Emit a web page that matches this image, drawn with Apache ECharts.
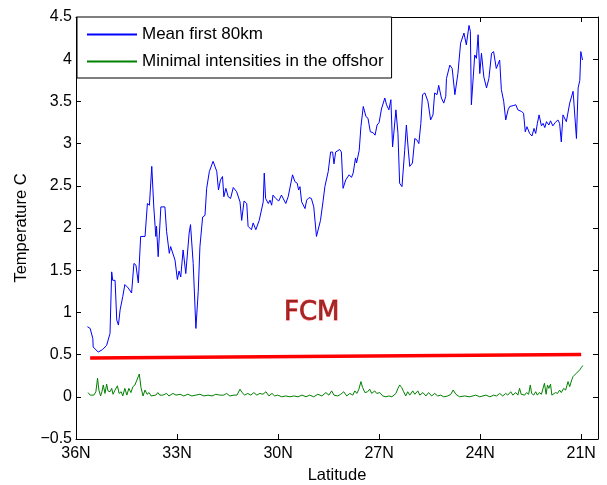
<!DOCTYPE html>
<html><head><meta charset="utf-8">
<script src="https://cdn.jsdelivr.net/npm/echarts@6/dist/echarts.min.js"></script>
<style>html,body{margin:0;padding:0;background:#fff}#c{width:607px;height:485px}</style>
</head><body><div id="c"></div>
<script>
// Mean first 80km
const blueLat = [35.66,35.58,35.50,35.49,35.34,35.21,35.09,34.99,34.94,34.91,34.84,34.79,34.74,34.69,34.61,34.55,34.45,34.35,34.28,34.22,34.15,34.08,33.95,33.88,33.82,33.75,33.69,33.63,33.61,33.56,33.48,33.36,33.31,33.23,33.19,33.06,32.99,32.94,32.89,32.82,32.74,32.70,32.64,32.60,32.52,32.44,32.37,32.32,32.24,32.17,32.12,32.04,31.93,31.82,31.77,31.71,31.65,31.61,31.55,31.48,31.41,31.33,31.23,31.13,31.08,31.01,30.93,30.89,30.84,30.79,30.74,30.66,30.56,30.44,30.41,30.37,30.29,30.24,30.19,30.15,30.07,29.98,29.90,29.77,29.70,29.57,29.50,29.43,29.39,29.35,29.30,29.26,29.20,29.15,29.08,29.01,28.94,28.86,28.81,28.74,28.66,28.61,28.51,28.44,28.38,28.34,28.29,28.17,28.12,28.07,27.99,27.89,27.82,27.77,27.70,27.67,27.59,27.54,27.47,27.39,27.33,27.26,27.18,27.12,27.06,27.00,26.93,26.83,26.78,26.71,26.65,26.60,26.50,26.44,26.39,26.32,26.24,26.19,26.14,26.09,26.01,25.94,25.87,25.82,25.76,25.71,25.64,25.55,25.47,25.40,25.35,25.28,25.23,25.15,25.08,25.02,25.00,24.95,24.90,24.83,24.75,24.66,24.58,24.48,24.41,24.33,24.29,24.26,24.21,24.16,24.11,24.06,24.01,23.96,23.89,23.81,23.74,23.66,23.60,23.52,23.42,23.37,23.30,23.24,23.17,23.12,23.02,22.94,22.88,22.77,22.71,22.66,22.61,22.53,22.46,22.40,22.35,22.30,22.25,22.18,22.13,22.08,22.03,21.96,21.91,21.84,21.77,21.69,21.64,21.59,21.54,21.49,21.44,21.39,21.34,21.29,21.24,21.19,21.14,21.09,21.04,21.01,20.96];
const blueTemp = [0.83,0.81,0.69,0.59,0.53,0.56,0.61,0.75,1.48,1.38,1.38,0.91,0.85,1.03,1.19,1.33,1.29,1.23,1.58,1.56,1.35,1.90,1.90,2.29,2.27,2.73,2.25,1.90,2.02,1.66,2.25,2.25,1.96,1.70,1.78,1.62,1.39,1.49,1.42,1.74,1.46,1.48,1.94,2.04,1.58,0.81,1.25,1.78,2.13,2.15,2.47,2.67,2.79,2.67,2.45,2.57,2.61,2.37,2.47,2.37,2.35,2.48,2.43,2.31,2.09,2.32,2.29,2.02,2.00,1.98,2.06,1.98,2.09,2.31,2.65,2.35,2.29,2.33,2.27,2.39,2.35,2.32,2.39,2.29,2.37,2.63,2.55,2.53,2.45,2.49,2.31,2.33,2.23,2.33,2.36,2.35,2.25,1.90,1.92,2.09,2.33,2.49,2.67,2.90,2.90,2.76,2.90,2.93,2.90,2.47,2.57,2.63,2.60,2.65,2.83,2.77,2.92,3.20,3.44,3.32,3.30,3.14,3.13,3.10,3.22,3.25,3.41,3.54,3.46,3.40,3.52,2.96,3.40,3.12,2.53,2.49,2.92,3.22,2.96,2.73,2.77,3.06,3.04,3.00,3.24,3.58,3.60,3.50,3.28,3.34,3.60,3.58,3.69,3.54,3.48,3.56,3.77,3.77,3.93,3.89,3.58,3.83,4.19,4.31,4.17,4.40,4.33,3.46,3.48,4.05,4.01,4.29,3.83,4.07,3.79,3.66,3.77,4.07,4.09,3.89,3.99,3.64,3.50,3.28,3.40,3.44,3.45,3.46,3.40,3.38,3.36,3.14,3.20,3.12,3.09,3.18,3.12,3.24,3.34,3.21,3.24,3.19,3.26,3.22,3.27,3.21,3.25,3.28,3.24,3.02,3.34,3.36,3.26,3.28,3.48,3.50,3.62,3.64,3.06,3.66,3.75,4.09,3.99];

// Minimal intensities in the offshore
const greenLat = [35.64,35.58,35.53,35.47,35.41,35.36,35.32,35.27,35.23,35.19,35.14,35.09,35.05,34.99,34.94,34.90,34.84,34.77,34.72,34.66,34.61,34.55,34.49,34.43,34.37,34.31,34.25,34.20,34.12,34.07,34.01,33.95,33.89,33.83,33.77,33.72,33.63,33.57,33.51,33.42,33.31,33.24,33.12,33.03,32.91,32.80,32.68,32.56,32.44,32.32,32.20,32.08,31.96,31.85,31.73,31.61,31.53,31.43,31.31,31.22,31.13,31.07,30.99,30.90,30.81,30.72,30.63,30.54,30.45,30.36,30.27,30.18,30.10,30.01,29.89,29.77,29.65,29.53,29.41,29.29,29.17,29.06,28.94,28.82,28.70,28.58,28.49,28.41,28.34,28.23,28.14,28.05,27.96,27.87,27.78,27.72,27.66,27.60,27.54,27.49,27.42,27.34,27.28,27.22,27.13,27.07,26.98,26.89,26.80,26.71,26.62,26.50,26.44,26.39,26.33,26.27,26.21,26.15,26.09,26.00,25.94,25.85,25.79,25.70,25.61,25.53,25.44,25.35,25.26,25.17,25.08,24.96,24.87,24.80,24.72,24.61,24.46,24.31,24.13,24.01,23.83,23.71,23.60,23.51,23.42,23.33,23.24,23.18,23.09,23.03,22.94,22.88,22.83,22.78,22.74,22.68,22.62,22.56,22.51,22.47,22.41,22.35,22.30,22.24,22.18,22.09,22.04,22.00,21.96,21.91,21.87,21.82,21.76,21.70,21.64,21.59,21.52,21.46,21.39,21.34,21.28,21.24,21.19,21.14,21.09,21.04,20.99,20.95];
const greenTemp = [0.05,0.02,0.04,0.02,0.06,0.22,0.08,0.01,0.06,0.14,0.04,0.15,0.07,0.06,0.10,0.03,0.08,0.13,0.04,0.06,0.01,0.10,0.02,0.10,0.05,0.12,0.14,0.16,0.27,0.11,0.01,0.08,0.03,0.05,0.01,0.02,0.02,0.05,0.02,0.02,0.04,0.01,0.04,0.02,0.03,0.01,0.03,0.01,0.02,0.03,0.01,0.02,0.01,0.03,0.02,0.02,0.04,0.01,0.02,0.02,0.09,0.05,0.02,0.04,0.02,0.05,0.02,0.04,0.03,0.06,0.01,0.04,0.01,0.02,0.00,0.01,0.00,0.01,0.00,0.02,0.00,0.02,0.00,0.03,0.01,0.05,0.02,0.07,0.02,0.01,0.03,0.06,0.01,0.04,0.02,0.07,0.04,0.09,0.18,0.11,0.05,0.06,0.09,0.04,0.07,0.04,0.05,0.01,0.00,0.01,0.00,0.04,0.10,0.14,0.11,0.06,0.01,0.06,0.02,0.07,0.03,0.07,0.02,0.05,0.01,0.05,0.01,0.04,0.01,0.02,0.00,0.01,0.03,0.08,0.03,0.00,0.01,0.00,0.02,0.00,0.02,0.00,0.02,0.01,0.04,0.01,0.04,0.02,0.06,0.02,0.05,0.02,0.10,0.03,0.05,0.02,0.05,0.03,0.14,0.04,0.02,0.06,0.02,0.05,0.03,0.16,0.03,0.14,0.10,0.15,0.02,0.04,0.05,0.04,0.08,0.05,0.10,0.08,0.18,0.12,0.20,0.24,0.22,0.28,0.26,0.32,0.35,0.37];

// FCM threshold line
const fcmLat = [35.58, 21.0];
const fcmTemp = [0.46, 0.50];
const fcmLabelLat = [29.0];
const fcmLabelTemp = [0.99];

const xTickValues = [36, 33, 30, 27, 24, 21];
const seriesNames = ['Mean first 80km', 'Minimal intensities in the offshor'];

const zip = (a, b) => a.map((v, i) => [v, b[i]]);
const FONT = 'Liberation Sans';

const chart = echarts.init(document.getElementById('c'));
const xBase = {
  type: 'value', min: 20.5, max: 36, inverse: true,
  axisLine: { show: true, onZero: false, lineStyle: { color: '#000', width: 1 } },
  axisTick: { show: true, inside: true, length: 5, customValues: xTickValues, lineStyle: { color: '#000' } },
  splitLine: { show: false }
};
const yBase = {
  type: 'value', min: -0.5, max: 4.5, interval: 0.5,
  axisLine: { show: true, onZero: false, lineStyle: { color: '#000', width: 1 } },
  axisTick: { show: true, inside: true, length: 5, lineStyle: { color: '#000' } },
  splitLine: { show: false }
};
chart.setOption({
  animation: false,
  backgroundColor: '#fff',
  grid: { left: 76, right: 9, top: 17, bottom: 46, outerBoundsMode: 'none', containLabel: false },
  legend: {
    data: seriesNames,
    orient: 'vertical', left: 77, top: 17,
    backgroundColor: '#fff', borderColor: '#000', borderWidth: 1, borderRadius: 0,
    padding: [9, 8, 8, 10],
    itemWidth: 50, itemHeight: 2, itemGap: 10,
    icon: 'rect',
    textStyle: { fontFamily: FONT, fontSize: 17, color: '#000' }
  },
  xAxis: [
    Object.assign({}, xBase, {
      position: 'bottom',
      name: 'Latitude', nameLocation: 'middle', nameGap: 28,
      nameTextStyle: { fontFamily: FONT, fontSize: 16.5, color: '#000' },
      axisLabel: { show: true, customValues: xTickValues, margin: 7, fontFamily: FONT, fontSize: 16, color: '#000', formatter: v => v + 'N' }
    }),
    Object.assign({}, xBase, { position: 'top', axisLabel: { show: false } })
  ],
  yAxis: [
    Object.assign({}, yBase, {
      position: 'left',
      name: 'Temperature C', nameLocation: 'middle', nameGap: 45, nameRotate: 90,
      nameTextStyle: { fontFamily: FONT, fontSize: 16.5, color: '#000' },
      axisLabel: { show: true, margin: 4, fontFamily: FONT, fontSize: 16, color: '#000',
        formatter: v => (v < 0 ? '\u2212' + Math.abs(v) : String(v)) }
    }),
    Object.assign({}, yBase, { position: 'right', axisLabel: { show: false } })
  ],
  series: [
    { name: seriesNames[0], type: 'line', data: zip(blueLat, blueTemp), showSymbol: false, symbol: 'none',
      lineStyle: { color: '#0000ff', width: 1 }, itemStyle: { color: '#0000ff' } },
    { name: seriesNames[1], type: 'line', data: zip(greenLat, greenTemp), showSymbol: false, symbol: 'none',
      lineStyle: { color: '#008000', width: 1 }, itemStyle: { color: '#008000' } },
    { name: 'FCM', type: 'line', data: zip(fcmLat, fcmTemp), showSymbol: false, symbol: 'none',
      lineStyle: { color: '#ff0000', width: 3.5 }, itemStyle: { color: '#ff0000' } },
    { name: 'FCM label', type: 'scatter', data: zip(fcmLabelLat, fcmLabelTemp), symbolSize: 0,
      label: { show: true, position: 'inside', formatter: 'FCM', fontFamily: 'DejaVu Sans', fontSize: 26,
        color: '#7a0000', textBorderColor: '#ff1a1a', textBorderWidth: 1 } }
  ]
});
</script></body></html>
